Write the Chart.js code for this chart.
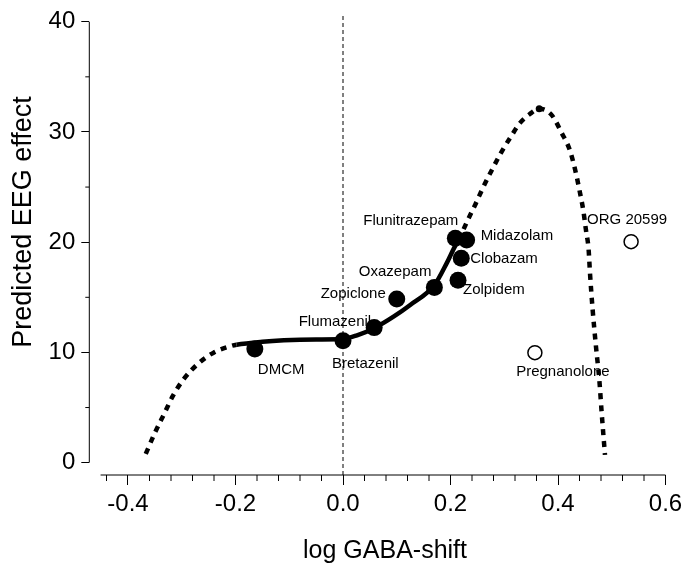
<!DOCTYPE html>
<html>
<head>
<meta charset="utf-8">
<script src="https://cdn.jsdelivr.net/npm/chart.js@4.4.1/dist/chart.umd.min.js"></script>
<style>
  body { margin: 0; background: #fff; overflow: hidden; }
  canvas { display: block; }
</style>
</head>
<body>
<canvas id="chart" width="681" height="564"></canvas>
<script>
// filled circles
var drugNames = ['DMCM', 'Bretazenil', 'Flumazenil', 'Zopiclone', 'Oxazepam', 'Flunitrazepam', 'Midazolam', 'Clobazam', 'Zolpidem'];
var drugShift = [-0.164, 0.0, 0.058, 0.100, 0.170, 0.209, 0.230, 0.220, 0.214];
var drugEffect = [10.3, 11.05, 12.25, 14.85, 15.9, 20.35, 20.2, 18.55, 16.55];

// open circles
var steroidNames = ['ORG 20599', 'Pregnanolone'];
var steroidShift = [0.536, 0.357];
var steroidEffect = [20.05, 9.98];

// fitted curve (solid part between solidFrom and solidTo)
var curveShift = [-0.367, -0.350, -0.332, -0.316, -0.296, -0.269, -0.240, -0.207, -0.198, -0.150, -0.110, -0.050, 0.000, 0.026, 0.058, 0.094, 0.125, 0.170, 0.193, 0.208, 0.215,
  0.233, 0.246, 0.261, 0.277, 0.295, 0.314, 0.329, 0.347, 0.365, 0.388, 0.407, 0.422, 0.432, 0.440, 0.447, 0.452, 0.457, 0.4595, 0.4645, 0.4707, 0.4769, 0.4813, 0.4874];
var curveEffect = [0.8, 2.7, 4.5, 6.1, 7.6, 9.0, 10.0, 10.6, 10.7, 10.97, 11.1, 11.18, 11.22, 11.55, 12.2, 13.24, 14.3, 16.1, 18.1, 19.6, 20.2,
  22.1, 23.4, 25.0, 26.55, 28.2, 29.7, 30.8, 31.6, 32.1, 31.55, 29.9, 28.35, 26.55, 24.7, 22.9, 21.1, 19.3, 17.2, 13.85, 10.5, 7.5, 4.5, 0.7];
var solidFrom = -0.198;
var solidTo = 0.215;

// ticks
var xTicks = [-0.4, -0.2, 0.0, 0.2, 0.4, 0.6];
var xMinorTicks = [-0.44, -0.36, -0.32, -0.28, -0.24, -0.16, -0.12, -0.08, -0.04, 0.04, 0.08, 0.12, 0.16, 0.24, 0.28, 0.32, 0.36, 0.44, 0.48, 0.52, 0.56];
var yTicks = [0, 10, 20, 30, 40];
var yMinorTicks = [5, 15, 25, 35];

// label placement next to each point: [align, dx, dy]
var labelPos = {
  'DMCM': ['left', 3, 21],
  'Bretazenil': ['left', -11, 23],
  'Flumazenil': ['right', -3, -6],
  'Zopiclone': ['right', -11, -5],
  'Oxazepam': ['right', -3, -16],
  'Flunitrazepam': ['right', 3, -17],
  'Midazolam': ['left', 14, -4],
  'Clobazam': ['left', 9, 1],
  'Zolpidem': ['left', 5, 10],
  'ORG 20599': ['center', -4, -22],
  'Pregnanolone': ['center', 28, 19]
};

var fontName = '"Liberation Sans", Arial, sans-serif';
Chart.defaults.font.family = fontName;
Chart.defaults.color = '#000';

var peakIndex = curveEffect.indexOf(Math.max.apply(null, curveEffect));

//draw axis lines, minor ticks, point labels and the axis titles
var decorPlugin = {
  id: 'decor',
  afterDatasetsDraw: function (chart) {
    var ctx = chart.ctx;
    ctx.save();
    ctx.fillStyle = '#000';
    ctx.font = '15px ' + fontName;
    ctx.textBaseline = 'middle';
    [0, 1].forEach(function (di) {
      var meta = chart.getDatasetMeta(di);
      var names = di == 0 ? drugNames : steroidNames;
      meta.data.forEach(function (pt, i) {
        var p = labelPos[names[i]];
        ctx.textAlign = p[0];
        ctx.fillText(names[i], pt.x + p[1], pt.y + p[2]);
      });
    });
    ctx.restore();
  },
  afterDraw: function (chart) {
    var ctx = chart.ctx, x = chart.scales.x, y = chart.scales.y;
    var left = chart.chartArea.left, bottom = chart.chartArea.bottom;
    ctx.save();
    ctx.strokeStyle = '#000';
    ctx.lineWidth = 1;
    ctx.beginPath();
    // y axis from 0 to 40
    ctx.moveTo(left, y.getPixelForValue(0));
    ctx.lineTo(left, y.getPixelForValue(40));
    yMinorTicks.forEach(function (v) {
      ctx.moveTo(left - 4, y.getPixelForValue(v));
      ctx.lineTo(left, y.getPixelForValue(v));
    });
    // x axis
    ctx.moveTo(x.getPixelForValue(-0.451), bottom);
    ctx.lineTo(x.getPixelForValue(0.6), bottom);
    xMinorTicks.forEach(function (v) {
      ctx.moveTo(x.getPixelForValue(v), bottom);
      ctx.lineTo(x.getPixelForValue(v), bottom + 6);
    });
    ctx.stroke();

    ctx.fillStyle = '#000';
    ctx.textAlign = 'center';
    ctx.textBaseline = 'middle';

    // x title
    ctx.font = '25px ' + fontName;
    ctx.fillText('log GABA-shift', 385, 551);

    // y title
    ctx.translate(24, 222);
    ctx.rotate(-Math.PI / 2);
    ctx.font = '27px ' + fontName;
    ctx.fillText('Predicted EEG effect', 0, 0);
    ctx.restore();
  }
};

var datasets = [{
    label: 'drugs',
    data: drugShift.map((v, i) => ({x: v, y: drugEffect[i]})),
    showLine: false,
    pointRadius: 8.5,
    pointBackgroundColor: '#000',
    pointBorderWidth: 0,
    order: 1
  },
  {
    label: 'steroids',
    data: steroidShift.map((v, i) => ({x: v, y: steroidEffect[i]})),
    showLine: false,
    pointRadius: 7,
    pointBackgroundColor: '#fff',
    pointBorderColor: '#000',
    pointBorderWidth: 1.5,
    order: 1
  },
  {
    label: 'fit',
    data: curveShift.map((v, i) => ({x: v, y: curveEffect[i]})),
    borderColor: '#000',
    borderWidth: 4.5,
    cubicInterpolationMode: 'monotone',
    pointRadius: (c) => c.dataIndex == peakIndex ? 3.5 : 0,
    pointBackgroundColor: '#000',
    pointBorderWidth: 0,
    segment: {
      borderDash: (c) => (c.p0.parsed.x >= solidFrom - 1e-9 && c.p1.parsed.x <= solidTo + 1e-9) ? [] : [6, 6]
    },
    order: 2
  },
  {
    label: 'zero',
    data: [{x: 0, y: -1.12}, {x: 0, y: 40.7}],
    borderColor: '#000',
    borderWidth: 1,
    borderDash: [4, 3],
    pointRadius: 0,
    order: 3
  }
];

var options = {
  responsive: false,
  animation: false,
  layout: { padding: { top: 14, right: 15.5, left: 0, bottom: 0 } },
  plugins: {
    legend: { display: false },
    tooltip: { enabled: false }
  },
  scales: {
    x: {
      type: 'linear',
      min: -0.472,
      max: 0.6,
      border: { display: false },
      grid: { drawOnChartArea: false, drawTicks: true, tickLength: 10, color: '#000' },
      ticks: {
        padding: 5,
        font: { size: 24 },
        callback: (v) => Number(v).toFixed(1)
      },
      afterBuildTicks: (s) => { s.ticks = xTicks.map((v) => ({value: v})); },
      afterFit: (s) => { s.height = 89; s.paddingLeft = 0; s.paddingRight = 0; }
    },
    y: {
      type: 'linear',
      min: -1.12,
      max: 40.7,
      border: { display: false },
      grid: { drawOnChartArea: false, drawTicks: true, tickLength: 8, color: '#000' },
      ticks: {
        padding: 6,
        font: { size: 24 },
        callback: (v) => String(v)
      },
      afterBuildTicks: (s) => { s.ticks = yTicks.map((v) => ({value: v})); },
      afterFit: (s) => { s.width = 89.3; s.paddingTop = 0; s.paddingBottom = 0; }
    }
  }
};

var chart = new Chart(document.getElementById('chart'), {
  type: 'line',
  data: { datasets: datasets },
  options: options,
  plugins: [decorPlugin]
});
</script>
</body>
</html>
